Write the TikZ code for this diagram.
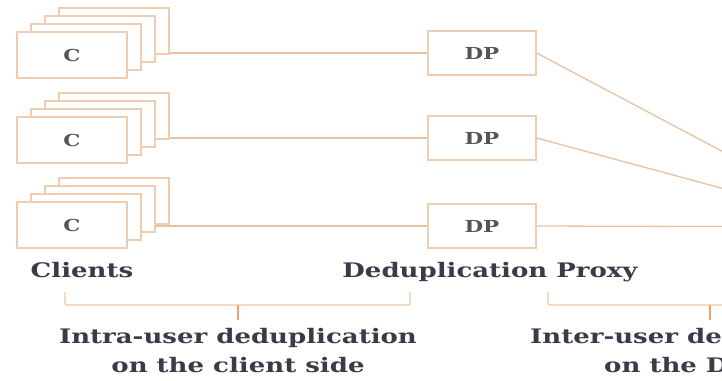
\documentclass[tikz,border=0pt]{standalone}
\usepackage{fontspec}
\newfontfamily\lblfont[FakeStretch=1.3]{DejaVu Serif}
\definecolor{boxc}{HTML}{F0CDB0}
\definecolor{linec}{HTML}{E8C2A2}
\definecolor{brc}{HTML}{EFC6A4}
\definecolor{tickc}{HTML}{F2A06A}
\definecolor{txtc}{HTML}{3A3A48}
\definecolor{smallc}{HTML}{555555}
\tikzset{
  cbox/.style={draw=boxc, fill=white, line width=1.3pt, minimum width=110pt, minimum height=46pt, inner sep=0pt},
  dpbox/.style={draw=boxc, fill=white, line width=1.3pt, minimum width=108pt, minimum height=44pt, inner sep=0pt},
  conn/.style={draw=linec, line width=1.3pt},
  brk/.style={draw=brc, line width=1.3pt, rounded corners=2pt},
  tck/.style={draw=tickc, line width=1.3pt},
  lbl/.style={text=txtc, font=\lblfont\bfseries\fontsize{20}{24}\selectfont, inner sep=0pt},
  small/.style={text=smallc, font=\lblfont\bfseries\fontsize{16.5}{19}\selectfont},
}
\begin{document}
\begin{tikzpicture}[x=1pt,y=-1pt]
\useasboundingbox (0,0) rectangle (722,380);
\clip (0,0) rectangle (722,380);
\fill[white] (0,0) rectangle (722,380);
% client stacks
\foreach \r/\y in {1/55,2/140,3/225}{
  \foreach \k in {3,2,1}{
    \node[cbox] (c\r-\k) at ({72+14*\k},{\y-8*\k}) {};
  }
  \node[cbox,small] (c\r-0) at (72,\y) {C};
}
% deduplication proxies
\node[dpbox,small] (dp1) at (482,53) {DP};
\node[dpbox,small] (dp2) at (482,138) {DP};
\node[dpbox,small] (dp3) at (482,226) {DP};
\coordinate (server) at (865,227);
% connectors
\draw[conn] (dp1.west) -- (dp1.west -| c1-3.east);
\draw[conn] (dp2.west) -- (dp2.west -| c2-3.east);
\draw[conn] (dp3.west) -- (dp3.west -| c3-2.east);
\draw[conn] (dp1.east) -- (server);
\draw[conn] (dp2.east) -- (server);
\draw[conn] (dp3.east) -- (server);
% labels
\node[lbl,anchor=base] (lclients) at (82,277) {Clients};
\node[lbl,anchor=base] (lproxy) at (490,277) {Deduplication Proxy};
% brackets
\draw[brk] (65,292) -- (65,305) -- (410,305) -- (410,292);
\draw[tck] (238,305) -- (238,320);
\draw[brk] (548,292) -- (548,305) -- (890,305);
\draw[tck] (710,305) -- (710,320);
\node[lbl,anchor=base] (intra1) at (238,343) {Intra-user deduplication};
\node[lbl,anchor=base] (intra2) at (238,372) {on the client side};
\node[lbl,anchor=base west] (inter1) at (530,343) {Inter-user de};
\node[lbl,anchor=base west] (inter2) at (604,372) {on the D};
\end{tikzpicture}
\end{document}
